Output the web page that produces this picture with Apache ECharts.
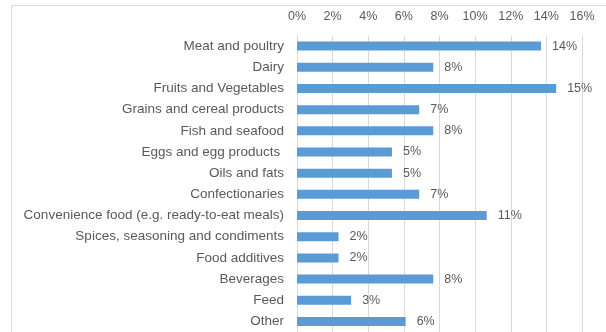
<!DOCTYPE html>
<html>
<head>
<meta charset="utf-8">
<script src="https://cdn.jsdelivr.net/npm/echarts@6/dist/echarts.min.js"></script>
<style>
html,body{margin:0;padding:0;background:#fff;}
#c{width:606px;height:332px;}
</style>
</head>
<body>
<div id="c"></div>
<script>
const categories = [
  "Meat and poultry",
  "Dairy",
  "Fruits and Vegetables",
  "Grains and cereal products",
  "Fish and seafood",
  "Eggs and egg products ",
  "Oils and fats",
  "Confectionaries",
  "Convenience food (e.g. ready-to-eat meals)",
  "Spices, seasoning and condiments",
  "Food additives",
  "Beverages",
  "Feed",
  "Other"
];
const values = [13.7, 7.65, 14.55, 6.86, 7.65, 5.33, 5.33, 6.86, 10.65, 2.33, 2.33, 7.65, 3.04, 6.1];
const tickMin = 0, tickMax = 16, tickStep = 2;

const chart = echarts.init(document.getElementById('c'), null, {renderer: 'canvas'});
const font = 'Liberation Sans';
chart.setOption({
  animation: false,
  graphic: [{
    type: 'rect',
    shape: {x: 11.5, y: 5.5, width: 700, height: 400},
    style: {fill: 'none', stroke: '#d9d9d9', lineWidth: 1},
    silent: true
  }],
  grid: {left: 297, right: 24, top: 35.5, height: 298, containLabel: false},
  xAxis: {
    type: 'value',
    position: 'top',
    min: tickMin, max: tickMax, interval: tickStep,
    axisLine: {show: false},
    axisTick: {show: false},
    splitLine: {show: true, lineStyle: {color: '#d9d9d9', width: 1}},
    axisLabel: {formatter: v => v + '%', color: '#595959', fontFamily: font, fontSize: 12.5, margin: 12}
  },
  yAxis: {
    type: 'category',
    data: categories,
    inverse: true,
    axisLine: {show: true, lineStyle: {color: '#d9d9d9'}},
    axisTick: {show: false},
    axisLabel: {color: '#595959', fontFamily: font, fontSize: 13.5, margin: 13}
  },
  series: [{
    type: 'bar',
    data: values,
    barWidth: 9,
    itemStyle: {color: '#5b9bd5'},
    label: {
      show: true, position: 'right', distance: 11,
      formatter: p => Math.round(p.value) + '%',
      color: '#595959', fontFamily: font, fontSize: 12.5
    }
  }]
});
</script>
</body>
</html>
